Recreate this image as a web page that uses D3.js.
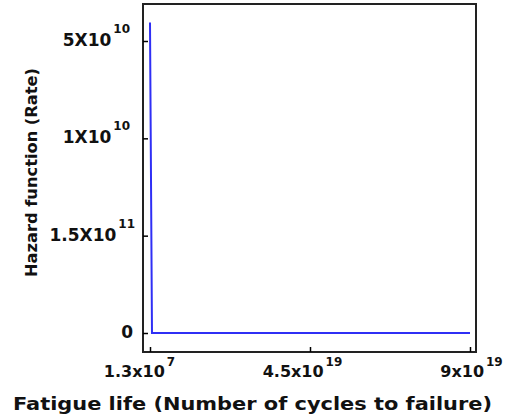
<!DOCTYPE html>
<html>
  <head>
    <meta charset="utf-8"/>
    <style type="text/css">
body {
  margin: 0;
  background: #fff;
}
svg text {
  font-family: "DejaVu Sans", Verdana, sans-serif;
  font-weight: 700;
  fill: #111;
}
.axis text {
  font-size: 17px;
}
.axis.x text {
  font-size: 16px;
}
.axis line {
  stroke: #000;
  stroke-width: 1.5px;
}
.frame {
  fill: none;
  stroke: #222;
  stroke-width: 2px;
}
    </style>
  </head>
  <body>
    <svg></svg>
    <script src="https://cdn.jsdelivr.net/npm/d3@7"></script>
    <script type="text/javascript">

// x: fatigue life (cycles), y: hazard rate expressed in the tick-position units of the figure
var xTicks = [1.3e7, 4.5e19, 9e19],
    xTickBase = ["1.3x10", "4.5x10", "9x10"],
    xTickExp = ["7", "19", "19"];

var yTicks = [0, 1, 2, 3],
    yTickBase = ["0", "1.5X10", "1X10", "5X10"],
    yTickExp = ["", "11", "10", "10"];

var lifeVals = [1.3e7, 5.6e17, 9e19],
    hazardVals = [3.19, 0, 0];

var W = 509, H = 418;
var box = {left: 143, top: 4, right: 476, bottom: 352};

var svg = d3.select("svg")
    .attr("width", W)
    .attr("height", H);

var x = d3.scaleLinear()
    .domain([1.3e7, 9e19])
    .range([150, 470]);

var y = d3.scaleLinear()
    .domain([0, 3])
    .range([333, 41]);

// frame
svg.append("rect")
    .attr("class", "frame")
    .attr("x", box.left)
    .attr("y", box.top)
    .attr("width", box.right - box.left)
    .attr("height", box.bottom - box.top);

function supLabels(sel, base, exp, dySup) {
  sel.selectAll(".tick text").each(function (d, i) {
    var t = d3.select(this).text(null);
    t.append("tspan").text(base[i]);
    if (exp[i]) {
      t.append("tspan")
        .attr("dx", 2)
        .attr("dy", dySup)
        .style("font-size", "12px")
        .text(exp[i]);
    }
  });
}

// x axis, ticks pointing inward
var gx = svg.append("g")
    .attr("class", "axis x")
    .attr("transform", "translate(0," + box.bottom + ")")
    .call(d3.axisBottom(x).tickValues(xTicks).tickSizeInner(-5).tickSizeOuter(0).tickPadding(0));
gx.select(".domain").remove();
gx.selectAll(".tick text")
    .attr("y", 25)
    .attr("dy", 0);
supLabels(gx, xTickBase, xTickExp, -11);
gx.selectAll(".tick text").attr("dx", (d, i) => [-11, -8, 1][i]);

// y axis
var gy = svg.append("g")
    .attr("class", "axis y")
    .attr("transform", "translate(" + box.left + ",0)")
    .call(d3.axisLeft(y).tickValues(yTicks).tickSizeInner(-5).tickSizeOuter(0));
gy.select(".domain").remove();
supLabels(gy, yTickBase, yTickExp, -13);
gy.selectAll(".tick text")
    .attr("dy", 0)
    .attr("y", 4.5)
    .attr("x", (d, i) => [-10, -8, -13, -13][i]);

// hazard curve
var line = d3.line()
    .x((d, i) => x(lifeVals[i]))
    .y(d => y(d));

svg.append("path")
    .datum(hazardVals)
    .attr("d", line)
    .attr("fill", "none")
    .attr("stroke", "#2f2ff5")
    .attr("stroke-width", 2);

// axis titles
svg.append("text")
    .attr("x", 252.5)
    .attr("y", 410)
    .attr("text-anchor", "middle")
    .attr("textLength", 479)
    .attr("lengthAdjust", "spacingAndGlyphs")
    .style("font-size", "18px")
    .text("Fatigue life (Number of cycles to failure)");

svg.append("text")
    .attr("transform", "translate(37,172.5) rotate(-90)")
    .attr("text-anchor", "middle")
    .attr("textLength", 209)
    .attr("lengthAdjust", "spacingAndGlyphs")
    .style("font-size", "16px")
    .text("Hazard function (Rate)");

    </script>
  </body>
</html>
